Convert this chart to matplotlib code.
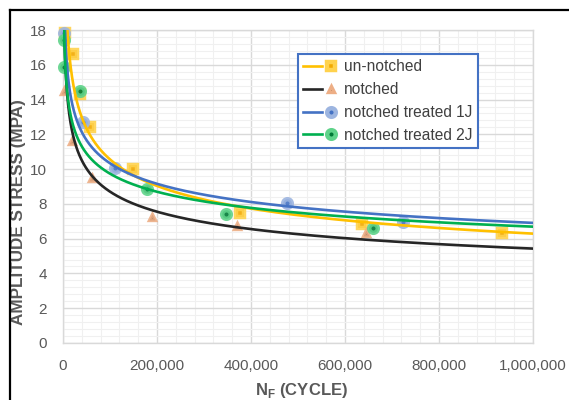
import numpy as np
import matplotlib
matplotlib.use("Agg")
import matplotlib.pyplot as plt
from matplotlib.lines import Line2D
from matplotlib.legend_handler import HandlerTuple
from matplotlib.ticker import FuncFormatter, MultipleLocator

plt.rcParams['font.family'] = ['Liberation Sans', 'DejaVu Sans']
plt.rcParams['mathtext.fontset'] = 'custom'
plt.rcParams['mathtext.rm'] = 'Liberation Sans'
plt.rcParams['mathtext.bf'] = 'Liberation Sans:bold'

# ---- data ----
series_names = ["un-notched", "notched", "notched treated 1J", "notched treated 2J"]

unnotched_x = [4000, 21000, 36000, 57000, 149000, 377000, 636000, 934000]
unnotched_y = [17.8, 16.6, 14.3, 12.4, 10.0, 7.5, 6.85, 6.34]

notched_x = [2000, 19000, 62000, 190000, 370000, 645000]
notched_y = [14.5, 11.6, 9.5, 7.25, 6.7, 6.3]

t1j_x = [1500, 42000, 110000, 476000, 723000]
t1j_y = [17.8, 12.7, 10.05, 8.05, 6.95]

t2j_x = [1500, 2500, 36000, 178000, 347000, 660000]
t2j_y = [17.4, 15.9, 14.5, 8.86, 7.43, 6.6]

# power trendline coefficients y = a * x^b
trend_a = [140.8, 92.2, 77.5, 63.6]
trend_b = [-0.225, -0.205, -0.175, -0.163]

xs_list = [unnotched_x, notched_x, t1j_x, t2j_x]
ys_list = [unnotched_y, notched_y, t1j_y, t2j_y]

x_ticks = [0, 200000, 400000, 600000, 800000, 1000000]
y_ticks = [0, 2, 4, 6, 8, 10, 12, 14, 16, 18]

line_colors = ["#FFC000", "#262626", "#4472C4", "#00B050"]
marker_face = ["#F2A900", "#3A2A1F", "#4472C4", "#007A36"]
marker_edge = ["#FFD24D", "#EDAE85", "#9DB5E0", "#5FD38A"]
marker_shape = ["s", "^", "o", "o"]
marker_size = [6.2, 5.0, 6.2, 6.2]
marker_ew = [3.2, 2.4, 3.2, 3.2]

W, H = 569, 400
fig = plt.figure(figsize=(W / 100, H / 100), dpi=100)
ax = fig.add_axes([63 / W, 1 - 343 / H, (533 - 63) / W, (343 - 30) / H])

ax.set_xlim(0, 1000000)
ax.set_ylim(0, 18)
ax.set_xticks(x_ticks)
ax.set_yticks(y_ticks)
ax.xaxis.set_minor_locator(MultipleLocator(40000))
ax.yaxis.set_minor_locator(MultipleLocator(0.4))
ax.xaxis.set_major_formatter(FuncFormatter(lambda v, p: f"{int(v):,}"))
ax.grid(which='major', color='#D9D9D9', linewidth=1.0, zorder=0)
ax.grid(which='minor', color='#F0F0F0', linewidth=0.8, zorder=0)
ax.set_axisbelow(True)
for s in ax.spines.values():
    s.set_color('#D9D9D9')
    s.set_linewidth(1.0)
ax.tick_params(which='both', length=0, labelsize=11, colors='#595959')
ax.tick_params(axis='x', pad=11.5)
ax.tick_params(axis='y', pad=11.5)

handles = []
xfit = np.linspace(800, 1000000, 4000)
for i in range(4):
    ax.plot(xs_list[i], ys_list[i], linestyle='none', marker=marker_shape[i],
            markersize=marker_size[i], markerfacecolor=marker_face[i],
            markeredgecolor=marker_edge[i], markeredgewidth=marker_ew[i],
            alpha=0.9, zorder=3, clip_on=False)
    yfit = trend_a[i] * xfit ** trend_b[i]
    ax.plot(xfit, yfit, color=line_colors[i], linewidth=1.9, zorder=4)
    lh = Line2D([], [], color=line_colors[i], linewidth=1.9)
    mh = Line2D([], [], linestyle='none', marker=marker_shape[i], markersize=marker_size[i],
                markerfacecolor=marker_face[i], markeredgecolor=marker_edge[i],
                markeredgewidth=marker_ew[i])
    handles.append((lh, mh))

hmap = {h: HandlerTuple(ndivide=None, pad=0.0) for h in handles}
leg = fig.legend(handles, series_names, handler_map=hmap, loc='upper left',
                 bbox_to_anchor=(298 / W, 1 - 54 / H), borderaxespad=0,
                 fontsize=11.2, labelcolor='#404040', frameon=True, fancybox=False,
                 edgecolor='#4472C4', framealpha=1, handlelength=2.4,
                 handletextpad=0.2, labelspacing=0.5, borderpad=0.35)
leg.get_frame().set_linewidth(1.5)

ax.set_ylabel("AMPLITUDE STRESS (MPA)", fontsize=12.3, fontweight='bold', color='#595959')
ax.yaxis.set_label_coords(26 / W, 1 - 212 / H, transform=fig.transFigure)
ax.set_xlabel(r"N$_{\mathbf{F}}$ (CYCLE)", fontsize=12, fontweight='bold', color='#595959')
ax.xaxis.set_label_coords(302 / W, 1 - 381 / H, transform=fig.transFigure)

# image border lines (top and left)
fig.add_artist(Line2D([10 / W, 1], [1 - 10 / H, 1 - 10 / H], color='black', linewidth=1.6,
                      transform=fig.transFigure))
fig.add_artist(Line2D([10 / W, 10 / W], [0, 1 - 10 / H], color='black', linewidth=1.6,
                      transform=fig.transFigure))

fig.savefig("out.png", dpi=100)
